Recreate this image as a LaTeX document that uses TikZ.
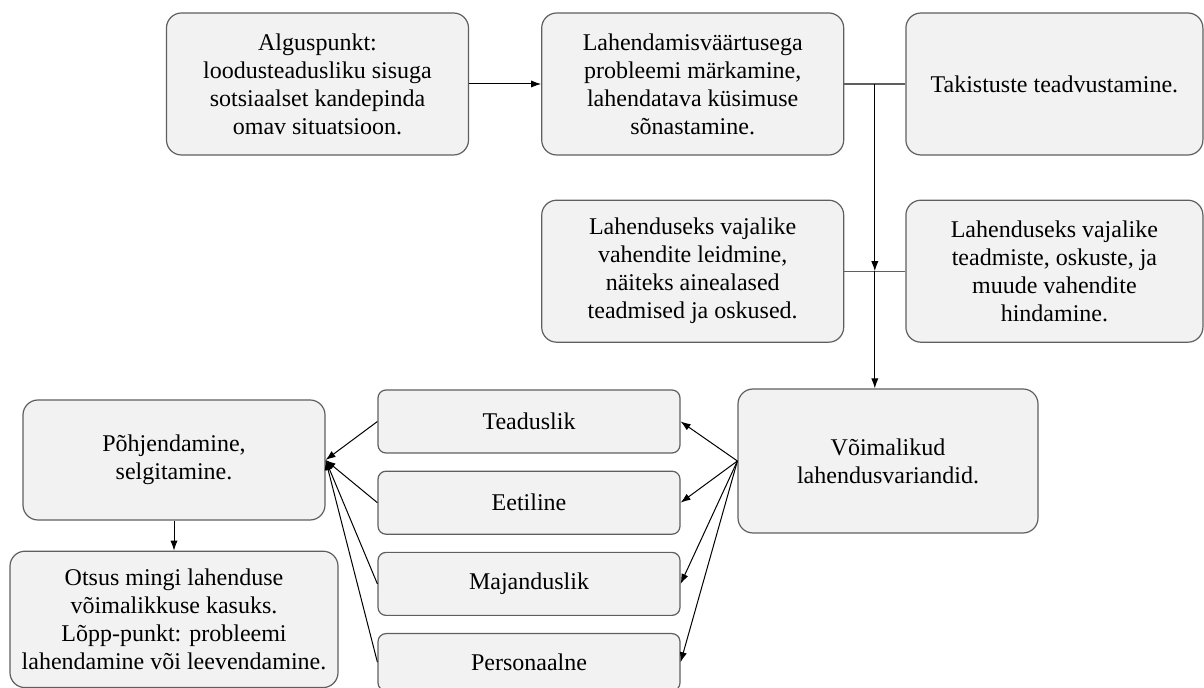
\documentclass[tikz,border=0pt]{standalone}
\usepackage{fontspec}
\setmainfont{Liberation Serif}
\usepackage{tikz}
\usetikzlibrary{arrows.meta,positioning}
\definecolor{boxfill}{RGB}{242,242,242}
\definecolor{boxdraw}{RGB}{95,95,95}
\tikzstyle{block} = [rectangle, draw=boxdraw, fill=boxfill, line width=0.6pt,
    align=center, rounded corners=7.5pt, minimum width=151pt, minimum height=71pt,
    inner sep=1pt, font=\fontsize{12}{14}\selectfont]
\tikzstyle{small} = [block, rounded corners=4pt, minimum height=31.5pt]
\tikzstyle{line} = [draw, -{Latex[length=5pt,width=3.6pt]}, line width=0.5pt]
\tikzstyle{link} = [draw=boxdraw, line width=0.6pt]

\begin{document}
\begin{tikzpicture}
    \useasboundingbox (0,0) rectangle (602pt,-344pt);
    % Place nodes
    \node [block] (start) at (158.75pt,-42pt) {Alguspunkt:\\ loodusteadusliku sisuga\\ sotsiaalset kandepinda\\ omav situatsioon.};
    \node [block, right=36pt of start] (probl) {Lahendamisväärtusega\\ probleemi märkamine,\\ lahendatava küsimuse\\ sõnastamine.};
    \node [block, minimum width=148.5pt, right=30.5pt of probl] (takist) {Takistuste teadvustamine.};
    \node [block, below=22pt of probl] (vahend) {Lahenduseks vajalike\\ vahendite leidmine,\\ näiteks ainealased\\ teadmised ja oskused.};
    \node [block, minimum width=148.5pt, below=22pt of takist] (hinda) {Lahenduseks vajalike\\ teadmiste, oskuste, ja\\ muude vahendite\\ hindamine.};
    \node [block, minimum width=150pt, minimum height=72pt] (variant) at (444pt,-230.5pt) {Võimalikud\\ lahendusvariandid.};
    \node [small] (tead) at (264.5pt,-210.75pt) {Teaduslik};
    \node [small, below=8.5pt of tead] (eet) {Eetiline};
    \node [small, below=8.5pt of eet] (maj) {Majanduslik};
    \node [small, minimum height=28.6pt, below=8.5pt of maj] (pers) {Personaalne};
    \node [block, minimum height=60pt] (pohj) at (87pt,-230pt) {Põhjendamine,\\ selgitamine.};
    \node [block, minimum width=164pt, minimum height=68.2pt, below=15pt of pohj] (otsus) {Otsus mingi lahenduse\\ võimalikkuse kasuks.\\ Lõpp-punkt: probleemi\\ lahendamine või leevendamine.};

    % Connectors
    \draw [line] (start) -- (probl);
    \draw [link] (probl.east) -- coordinate[midway] (k1) (takist.west);
    \draw [link] (vahend.east) -- coordinate[midway] (k2) (hinda.west);
    \draw [line] (k1) -- (k2);
    \draw [line] (k2) -- (k2 |- variant.north);
    \foreach \n in {tead,eet,maj,pers} {
        \draw [line] (variant.west) -- (\n.east);
        \draw [line] (\n.west) -- (pohj.east);
    }
    \draw [line] (pohj) -- (otsus);
\end{tikzpicture}
\end{document}
